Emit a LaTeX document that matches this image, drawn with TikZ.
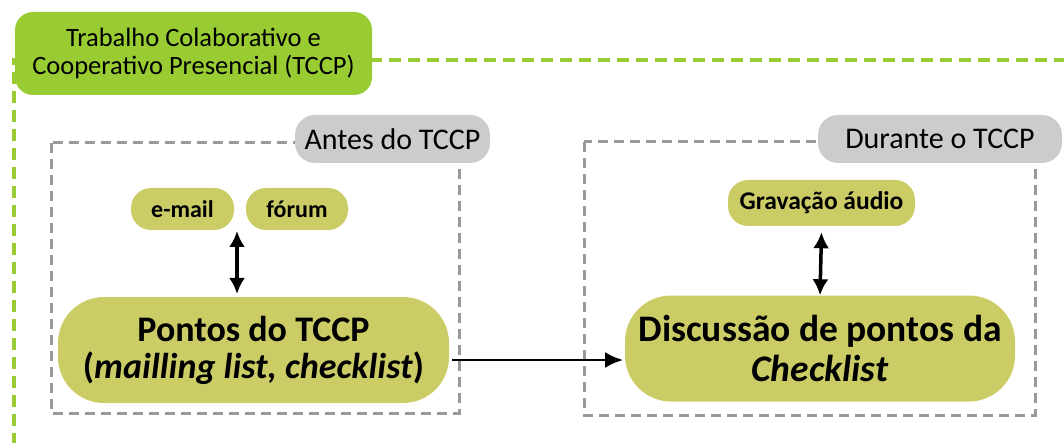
\documentclass[tikz,border=0pt]{standalone}
\usepackage{fontspec}
\setmainfont{Carlito}
\usetikzlibrary{arrows.meta}
\definecolor{tgreen}{HTML}{99CC33}
\definecolor{olive}{HTML}{CCCC66}
\definecolor{lgray}{HTML}{CCCCCC}
\definecolor{dgray}{HTML}{999999}
\tikzset{
  titlebox/.style={fill=tgreen, rounded corners=18pt, minimum width=357pt, minimum height=83pt, inner sep=0pt, align=center, font=\fontsize{26.5}{28}\selectfont},
  phaselabel/.style={fill=lgray, rounded corners=20pt, minimum height=48pt, inner sep=0pt, font=\fontsize{30}{32}\selectfont},
  smallpill/.style={fill=olive, rounded corners=20pt, minimum height=42pt, inner sep=0pt, font=\bfseries\fontsize{24}{26}\selectfont},
  bigpill/.style={fill=olive, rounded corners=46pt, minimum height=106pt, inner sep=0pt, align=center},
  phasebox/.style={draw=dgray, line width=3pt, dash pattern=on 10pt off 6pt},
  greenline/.style={draw=tgreen, line width=3.5pt, dash pattern=on 12pt off 7pt},
  dblarr/.style={line width=3.5pt, {Latex[length=16pt,width=16pt]}-{Latex[length=16pt,width=16pt]}},
  arr/.style={line width=2.5pt, -{Latex[length=18pt,width=16pt]}},
}
\begin{document}
\begin{tikzpicture}[x=1pt,y=-1pt]
\useasboundingbox (0,0) rectangle (1064,443);
% green dashed frame
\coordinate (gr) at (1066,60);
\coordinate (gc) at (14,60);
\coordinate (gb) at (14,445);
\draw[greenline] (gr) -- (gc) -- (gb);
\node[titlebox] (title) at (193.5,53.5) {Trabalho Colaborativo e\\Cooperativo Presencial (TCCP)};
% phase boxes
\draw[phasebox] (51,143) rectangle (459,413);
\draw[phasebox] (584,142) rectangle (1035,415);
\node[phaselabel, minimum width=195pt] (antes) at (392.5,139) {Antes do TCCP};
\node[phaselabel, minimum width=244pt] (durante) at (940,139) {Durante o TCCP};
% before
\node[smallpill, minimum width=103pt] (email) at (182.5,209) {e-mail};
\node[smallpill, minimum width=102pt] (forum) at (297,209) {fórum};
\node[bigpill, minimum width=391pt, font=\bfseries\fontsize{36}{37}\selectfont] (pontos) at (253.5,350) {Pontos do TCCP\\(\textit{mailling list, checklist})};
% during
\node[smallpill, minimum width=187pt, minimum height=46pt, font=\bfseries\fontsize{25.5}{27}\selectfont] (grav) at (821.5,203) {Gravação áudio};
\node[bigpill, minimum width=390pt, font=\bfseries\fontsize{37.5}{40}\selectfont] (disc) at (820,348.5) {Discussão de pontos da\\\textit{Checklist}};
% connectors
\coordinate (a1) at (237,231);
\coordinate (a2) at (237,294);
\draw[dblarr] (a1) -- (a2);
\coordinate (b1) at (grav.south);
\draw[dblarr] ([yshift=-6pt]b1) -- (disc.north);
\coordinate (c1) at (452,360);
\coordinate (c2) at (623,360);
\draw[arr] (c1) -- (c2);
\end{tikzpicture}
\end{document}
